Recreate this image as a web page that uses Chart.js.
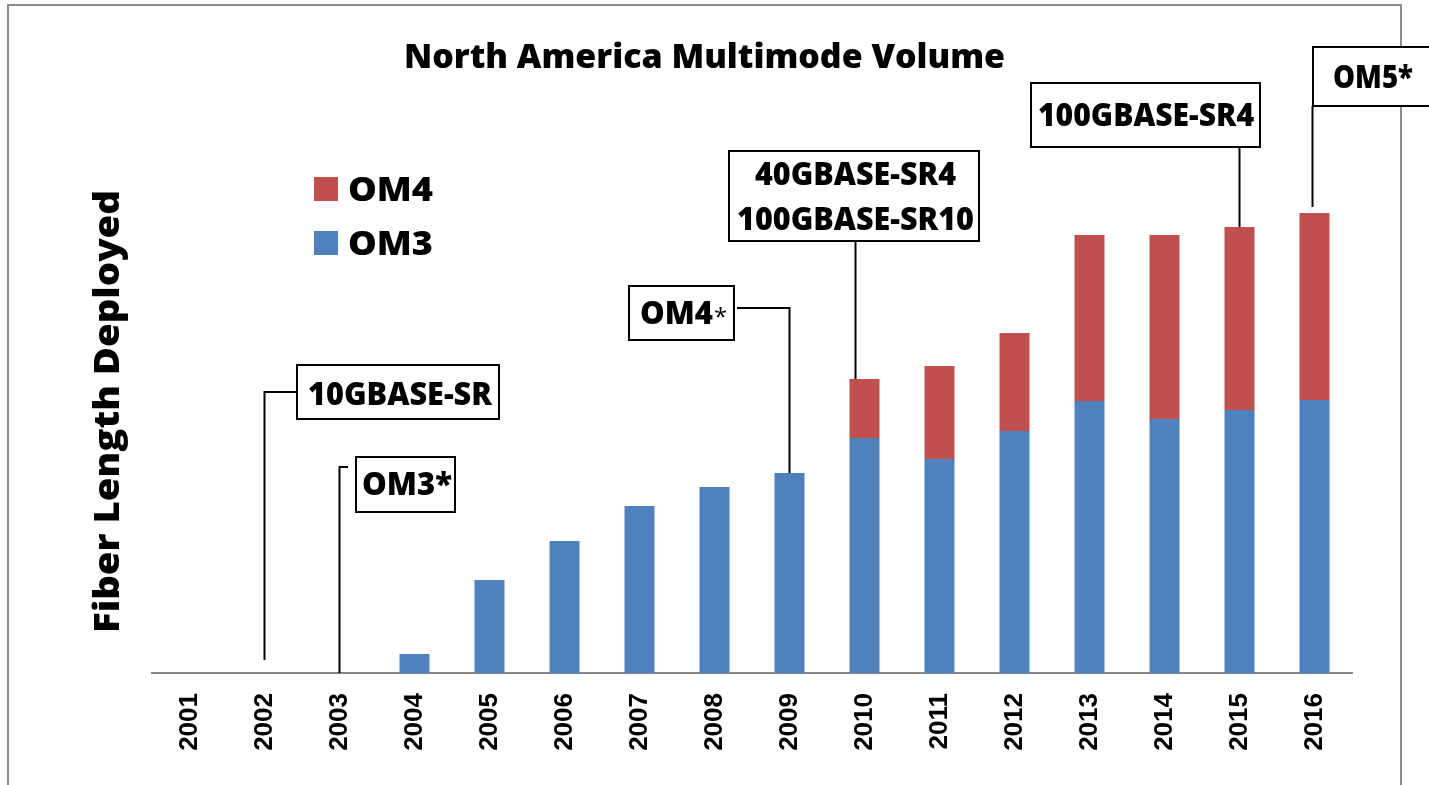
<!DOCTYPE html>
<html>
<head>
<meta charset="utf-8">
<script src="https://cdn.jsdelivr.net/npm/chart.js@4"></script>
<style>
  html, body { margin: 0; padding: 0; background: #fff; }
  #wrap { width: 1429px; height: 785px; }
</style>
</head>
<body>
<div id="wrap"><canvas id="mmChart" width="1429" height="785"></canvas></div>
<script>
// data (arbitrary units, no y scale shown)
const years = ['2001', '2002', '2003', '2004', '2005', '2006', '2007', '2008',
  '2009', '2010', '2011', '2012', '2013', '2014', '2015', '2016'];
const om3 = [0, 0, 0, 19, 93, 132, 167, 186, 200, 235, 214, 242, 272, 254, 263, 273];
const om4 = [0, 0, 0, 0, 0, 0, 0, 0, 0, 59, 93, 98, 166, 184, 183, 187];

// callouts: box, text lines, and which year the leader points at
const callouts = [
  { lines: ['10GBASE-SR'], box: [297, 365, 202, 54], text: [[308, 405, 184]], year: '2002',
    from: [297, 392], gap: 13 },
  { lines: ['OM3*'], box: [356, 457, 99, 55], text: [[362, 495, 90]], year: '2003',
    from: [348, 467], gap: 0 },
  { lines: ['OM4'], star: true, box: [629, 286, 105, 54], text: [[640, 324, 73]], year: '2009',
    from: [737, 308], gap: 0 },
  { lines: ['40GBASE-SR4', '100GBASE-SR10'], box: [729, 151, 250, 90],
    text: [[755, 185, 201], [737, 230, 237]], year: '2010', dx: -9, from: null, gap: 0 },
  { lines: ['100GBASE-SR4'], box: [1031, 83, 229, 64], text: [[1038, 126, 216]], year: '2015',
    from: null, gap: 0 },
  { lines: ['OM5*'], box: [1313, 47, 130, 59], text: [[1333, 88, 80]], year: '2016',
    from: null, gap: 6, dx: -2 }
];

const FONT = '"Open Sans", Lato, sans-serif';

function fitText(ctx, text, x, y, width, size, weight) {
  ctx.save();
  ctx.font = (weight || '800') + ' ' + size + 'px ' + FONT;
  const w = ctx.measureText(text).width;
  ctx.translate(x, y);
  ctx.scale(width / w, 1);
  ctx.textAlign = 'left';
  ctx.textBaseline = 'alphabetic';
  ctx.fillStyle = '#000';
  ctx.fillText(text, 0, 0);
  ctx.restore();
}

const decor = {
  id: 'decor',
  beforeDraw(chart) {
    const ctx = chart.ctx;
    ctx.save();
    ctx.fillStyle = '#fff';
    ctx.fillRect(0, 0, chart.width, chart.height);
    // outer frame
    ctx.strokeStyle = '#8c8c8c';
    ctx.lineWidth = 2;
    ctx.beginPath();
    ctx.moveTo(8, 790);
    ctx.lineTo(8, 5);
    ctx.lineTo(1401, 5);
    ctx.lineTo(1401, 790);
    ctx.stroke();
    ctx.restore();
  },
  afterDraw(chart) {
    const ctx = chart.ctx;
    const xs = chart.scales.x, ys = chart.scales.y;

    // title
    fitText(ctx, 'North America Multimode Volume', 404, 68, 601, 34);

    // y title
    ctx.save();
    ctx.translate(128, 633);
    ctx.rotate(-Math.PI / 2);
    fitText(ctx, 'Fiber Length Deployed', 0, -9, 443, 36);
    ctx.restore();

    // legend
    const leg = [[chart.data.datasets[1], 177], [chart.data.datasets[0], 231]];
    leg.forEach(([ds, y]) => {
      ctx.fillStyle = ds.backgroundColor;
      ctx.fillRect(314, y, 24, 24);
      fitText(ctx, ds.label, 348, y + 24, 85, 34);
    });

    // callouts
    ctx.save();
    ctx.strokeStyle = '#000';
    ctx.lineWidth = 2;
    callouts.forEach(c => {
      const i = years.indexOf(c.year);
      const lx = xs.getPixelForValue(i) + (c.dx || 0);
      const ly = ys.getPixelForValue(om3[i] + om4[i]) - c.gap;
      ctx.beginPath();
      if (c.from) {
        ctx.moveTo(c.from[0], c.from[1]);
        ctx.lineTo(lx, c.from[1]);
      } else {
        ctx.moveTo(lx, c.box[1] + c.box[3]);
      }
      ctx.lineTo(lx, ly);
      ctx.stroke();
      ctx.fillStyle = '#fff';
      ctx.fillRect(c.box[0], c.box[1], c.box[2], c.box[3]);
      ctx.strokeRect(c.box[0], c.box[1], c.box[2], c.box[3]);
      c.lines.forEach((t, k) => {
        const p = c.text[k];
        fitText(ctx, t, p[0], p[1], p[2], 31);
      });
      if (c.star) {
        ctx.font = 'normal 24px ' + FONT;
        ctx.fillStyle = '#000';
        ctx.fillText('*', c.text[0][0] + c.text[0][2] + 1, c.text[0][1] + 1);
      }
    });
    ctx.restore();
  }
};

new Chart(document.getElementById('mmChart').getContext('2d'), {
  type: 'bar',
  data: {
    labels: years,
    datasets: [
      { label: 'OM3', data: om3, backgroundColor: '#4F81BD', borderWidth: 0 },
      { label: 'OM4', data: om4, backgroundColor: '#C0504D', borderWidth: 0 }
    ]
  },
  options: {
    responsive: false,
    animation: false,
    layout: { padding: { left: 152, right: 77, top: 73, bottom: 0 } },
    plugins: { legend: { display: false }, tooltip: { enabled: false } },
    datasets: { bar: { barPercentage: 0.4, categoryPercentage: 1.0 } },
    scales: {
      x: {
        stacked: true,
        grid: { display: false, drawTicks: false },
        border: { color: '#868686', width: 2 },
        ticks: {
          minRotation: 90, maxRotation: 90, padding: 20, color: '#000',
          font: { family: '"Liberation Sans", Arial, sans-serif', size: 26, weight: 'bold' }
        },
        afterFit(scale) { scale.height = 112; }
      },
      y: {
        stacked: true, display: false, min: 0, max: 600
      }
    }
  },
  plugins: [decor]
});
</script>
</body>
</html>
